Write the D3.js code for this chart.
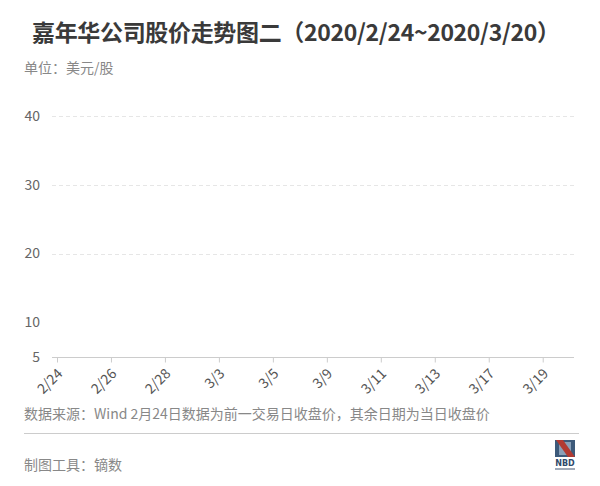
<!DOCTYPE html>
<html>
<head>
<meta charset="utf-8">
<script src="https://cdn.jsdelivr.net/npm/d3@7"></script>
<style>
  html, body { margin: 0; padding: 0; background: #fff; }
  svg { display: block; font-family: "Noto Sans CJK SC", "Noto Sans", sans-serif; }
</style>
</head>
<body>
<svg id="chart" width="600" height="486"></svg>
<script>
// ---- data ----
const title = "嘉年华公司股价走势图二（2020/2/24~2020/3/20）";
const unitLabel = "单位：美元/股";
const sourceNote = "数据来源：Wind 2月24日数据为前一交易日收盘价，其余日期为当日收盘价";
const toolNote = "制图工具：镝数";
const categories = ["2/24","2/25","2/26","2/27","2/28","3/2","3/3","3/4","3/5","3/6",
                    "3/9","3/10","3/11","3/12","3/13","3/16","3/17","3/18","3/19","3/20"];
const xTickLabels = ["2/24","2/26","2/28","3/3","3/5","3/9","3/11","3/13","3/17","3/19"];
const yTicks = [5, 10, 20, 30, 40];
const yGridTicks = [20, 30, 40];
const yDomain = [5, 45];

// ---- drawing ----
const svg = d3.select("#chart");

svg.append("text")
  .attr("x", 32).attr("y", 41)
  .attr("font-size", 23).attr("font-weight", "bold")
  .attr("fill", "#3a3a3a")
  .attr("textLength", 528).attr("lengthAdjust", "spacing")
  .text(title);

svg.append("text")
  .attr("x", 24).attr("y", 73)
  .attr("font-size", 14).attr("fill", "#888")
  .text(unitLabel);

const x = d3.scalePoint().domain(categories).range([57, 569.7]);
const y = d3.scaleLinear().domain(yDomain).range([356.7, 81.6]);

// grid
svg.append("g").selectAll("line").data(yGridTicks).join("line")
  .attr("x1", 52).attr("x2", 575)
  .attr("y1", d => Math.round(y(d)) + 0.5).attr("y2", d => Math.round(y(d)) + 0.5)
  .attr("stroke", "#e6e6e6").attr("stroke-width", 1)
  .attr("stroke-dasharray", "4,3");

// y labels
svg.append("g").selectAll("text").data(yTicks).join("text")
  .attr("x", 40).attr("y", d => y(d))
  .attr("dy", "0.35em")
  .attr("text-anchor", "end")
  .attr("font-size", 14).attr("fill", "#666")
  .text(d => d);

// x axis
const xAxis = d3.axisBottom(x).tickValues(xTickLabels).tickSize(5).tickSizeOuter(0);
const gx = svg.append("g").attr("transform", "translate(0," + (Math.round(y(yDomain[0])) + 0.5) + ")").call(xAxis);
gx.select(".domain").attr("d", "M52,0H574").attr("stroke", "#ccc");
gx.selectAll(".tick line").attr("stroke", "#ccc");
gx.selectAll(".tick text")
  .attr("font-family", "'Noto Sans CJK SC', 'Noto Sans', sans-serif")
  .attr("font-size", 14).attr("fill", "#555")
  .attr("text-anchor", "end")
  .attr("dy", null).attr("y", null)
  .attr("transform", "translate(6,17) rotate(-45)");

// footer
svg.append("text")
  .attr("x", 24).attr("y", 419)
  .attr("font-size", 14).attr("fill", "#888")
  .text(sourceNote);

svg.append("line")
  .attr("x1", 24).attr("x2", 579).attr("y1", 433.5).attr("y2", 433.5)
  .attr("stroke", "#ccc");

svg.append("text")
  .attr("x", 24).attr("y", 470)
  .attr("font-size", 14).attr("fill", "#888")
  .text(toolNote);

// NBD logo
const logo = svg.append("g").attr("transform", "translate(555,440)");
logo.append("rect").attr("x", 0).attr("y", 0).attr("width", 20).attr("height", 17).attr("fill", "#3d5a7a");
logo.append("rect").attr("x", 4).attr("y", 2).attr("width", 12).attr("height", 13).attr("fill", "#8aa0b8");
logo.append("polygon").attr("points", "1,0 8,0 20,17 13,17").attr("fill", "#b23a32");
logo.append("text").attr("x", 10).attr("y", 26).attr("text-anchor", "middle")
  .attr("font-size", 8).attr("font-weight", "bold").attr("fill", "#2f4a6b")
  .attr("font-family", "'DejaVu Sans', sans-serif").text("NBD");
logo.append("rect").attr("x", 0).attr("y", 28).attr("width", 20).attr("height", 2).attr("fill", "#a0aab8");
</script>
</body>
</html>
